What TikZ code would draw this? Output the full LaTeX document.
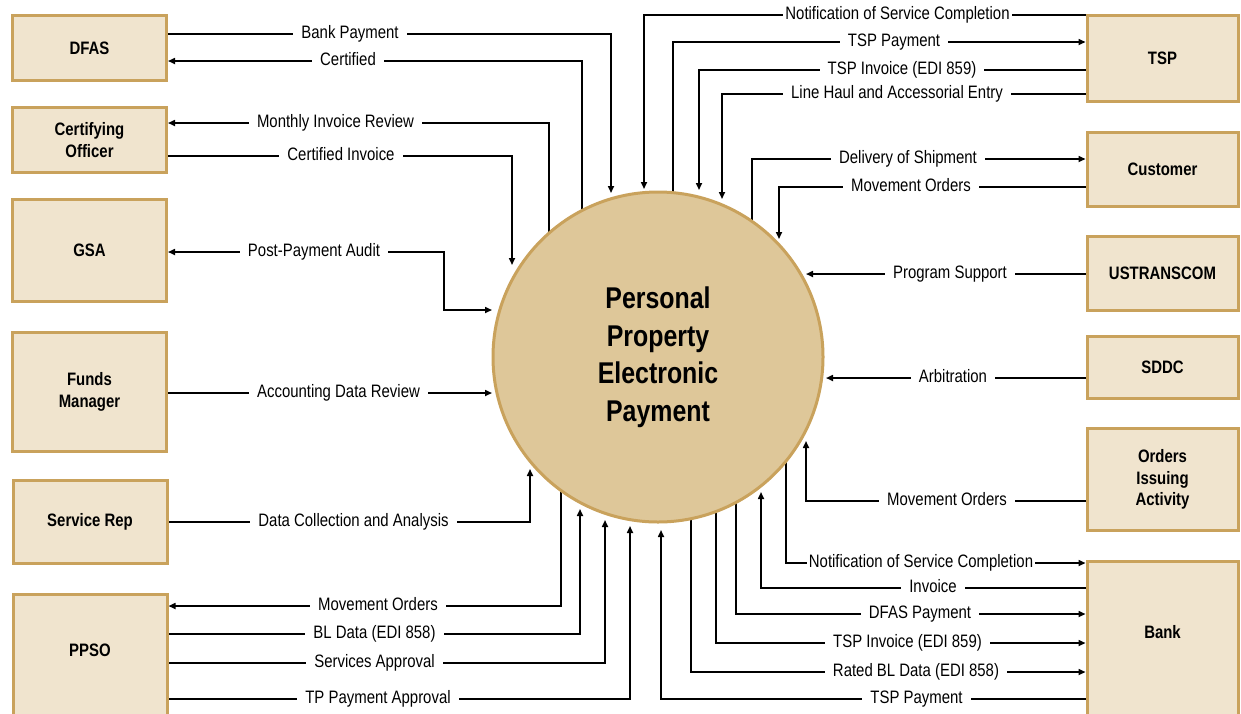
\documentclass[tikz,border=0pt]{standalone}
\usepackage{fontspec}
\setmainfont{Liberation Sans}[FakeStretch=0.83]
\usetikzlibrary{arrows.meta}
\pgfdeclarelayer{back}
\pgfdeclarelayer{bg}
\pgfsetlayers{back,bg,main}
\definecolor{boxfill}{RGB}{240,228,206}
\definecolor{boxline}{RGB}{201,162,92}
\definecolor{circfill}{RGB}{222,199,153}
\begin{document}
\begin{tikzpicture}[x=1pt,y=-1pt,
  box/.style={draw=boxline, fill=boxfill, line width=3pt, minimum width=154pt,
    align=center, inner sep=0pt, font=\bfseries\fontsize{18}{21.5}\selectfont},
  rbox/.style={box, minimum width=151pt},
  boxtxt/.style={align=center, inner sep=0pt, font=\bfseries\fontsize{18}{21.5}\selectfont},
  lab/.style={fill=white, inner xsep=8pt, inner ysep=1pt, text height=13pt, text depth=4pt,
    font=\fontsize{18}{21.5}\selectfont},
  labt/.style={lab, inner xsep=2pt},
  conn/.style={line width=1.6pt},
  arr/.style={conn, -{Triangle[length=7pt,width=6pt]}},
  biarr/.style={conn, {Triangle[length=7pt,width=6pt]}-{Triangle[length=7pt,width=6pt]}}]
\clip (0,0) rectangle (1241,713);
\begin{pgfonlayer}{back}
\fill[white] (0,0) rectangle (1241,713);
\end{pgfonlayer}

% left boxes
\node[box, minimum height=65] (DFAS) at (89.5,48) {DFAS};
\node[box, minimum height=65] (CO) at (89.5,140) {Certifying\\Officer};
\node[box, minimum height=102] (GSA) at (89.5,250.5) {GSA};
\node[box, minimum height=119] (FM) at (89.5,392) {Funds\\Manager};
\node[box, minimum height=83] (SR) at (90,522) {Service Rep};
\node[box, minimum height=160, anchor=north] (PPSO) at (90,592.5) {};
\node[boxtxt] (PPSOt) at (90,650) {PPSO};

% right boxes
\node[rbox, minimum height=86] (TSP) at (1162.5,58.5) {TSP};
\node[rbox, minimum height=74] (CU) at (1162.5,169.5) {Customer};
\node[rbox, minimum height=74] (UST) at (1162.5,273.5) {USTRANSCOM};
\node[rbox, minimum height=62] (SDDC) at (1162.5,367.5) {SDDC};
\node[rbox, minimum height=102] (OIA) at (1162.5,479.5) {Orders\\Issuing\\Activity};
\node[rbox, minimum height=170, anchor=north] (Bank) at (1162.5,559.5) {};
\node[boxtxt] (Bankt) at (1162.5,632) {Bank};

% central process
\node[circle, draw=boxline, fill=circfill, line width=3pt, minimum size=330pt,
  inner sep=0pt, align=center, font=\bfseries\fontsize{30}{37.5}\selectfont]
  (C) at (658,357) {Personal\\Property\\Electronic\\Payment};

% end points at the circle
\coordinate (bp) at (611,193);
\coordinate (ce) at (582,280);
\coordinate (mi) at (549,280);
\coordinate (ci) at (512,265);
\coordinate (pac) at (444,310);
\coordinate (pa) at (492,310);
\coordinate (ad) at (492,393);
\coordinate (dc) at (530,469);
\coordinate (mo) at (561,440);
\coordinate (bl) at (580,509);
\coordinate (sa) at (605,520);
\coordinate (tp) at (630,526);
\coordinate (ns) at (644,189);
\coordinate (tpay) at (673,260);
\coordinate (ti) at (699,190);
\coordinate (lh) at (722,199);
\coordinate (ds) at (752,260);
\coordinate (mc) at (779,239);
\coordinate (ps) at (806,274);
\coordinate (ar) at (826,378);
\coordinate (mv) at (806,441);
\coordinate (nb) at (786,440);
\coordinate (iv) at (761,492);
\coordinate (dp) at (736,440);
\coordinate (tib) at (716,440);
\coordinate (rb) at (691,440);
\coordinate (tpb) at (661,530);

\begin{pgfonlayer}{bg}
\draw[arr] (DFAS.east |- 0,34) -| (bp);
\draw[arr] (ce) |- (DFAS.east |- 0,61);
\draw[arr] (mi) |- (CO.east |- 0,123);
\draw[arr] (CO.east |- 0,156) -| (ci);
\draw[biarr] (GSA.east |- 0,252) -| (pac) -- (pa);
\draw[arr] (FM.east |- 0,393) -- (ad);
\draw[arr] (SR.east |- 0,522) -| (dc);
\draw[arr] (mo) |- (PPSO.east |- 0,606);
\draw[arr] (PPSO.east |- 0,634) -| (bl);
\draw[arr] (PPSO.east |- 0,663) -| (sa);
\draw[arr] (PPSO.east |- 0,699) -| (tp);

\draw[arr] (TSP.west |- 0,15) -| (ns);
\draw[arr] (tpay) |- (TSP.west |- 0,42);
\draw[arr] (TSP.west |- 0,70) -| (ti);
\draw[arr] (TSP.west |- 0,94) -| (lh);
\draw[arr] (ds) |- (CU.west |- 0,159);
\draw[arr] (CU.west |- 0,187) -| (mc);
\draw[arr] (UST.west |- 0,274) -- (ps);
\draw[arr] (SDDC.west |- 0,378) -- (ar);
\draw[arr] (OIA.west |- 0,501) -| (mv);
\draw[arr] (nb) |- (Bank.west |- 0,563);
\draw[arr] (Bank.west |- 0,588) -| (iv);
\draw[arr] (dp) |- (Bank.west |- 0,614);
\draw[arr] (tib) |- (Bank.west |- 0,643);
\draw[arr] (rb) |- (Bank.west |- 0,672);
\draw[arr] (Bank.west |- 0,699) -| (tpb);
\end{pgfonlayer}

% labels
\node[lab] (l1) at (350,34) {Bank Payment};
\node[lab] (l2) at (348,61) {Certified};
\node[lab] (l3) at (335.5,123) {Monthly Invoice Review};
\node[lab] (l4) at (341,156) {Certified Invoice};
\node[lab] (l5) at (314,252) {Post-Payment Audit};
\node[lab] (l6) at (338.5,393) {Accounting Data Review};
\node[lab] (l7) at (353.5,522) {Data Collection and Analysis};
\node[lab] (l8) at (378,606) {Movement Orders};
\node[lab] (l9) at (374.5,634) {BL Data (EDI 858)};
\node[lab] (l10) at (374.5,663) {Services Approval};
\node[lab] (l11) at (378,699) {TP Payment Approval};

\node[labt] (r1) at (897.5,15) {Notification of Service Completion};
\node[lab] (r2) at (894,42) {TSP Payment};
\node[lab] (r3) at (902,70) {TSP Invoice (EDI 859)};
\node[lab] (r4) at (897,94) {Line Haul and Accessorial Entry};
\node[lab] (r5) at (908,159) {Delivery of Shipment};
\node[lab] (r6) at (911,187) {Movement Orders};
\node[lab] (r7) at (950,274) {Program Support};
\node[lab] (r8) at (953,378) {Arbitration};
\node[lab] (r9) at (947,501) {Movement Orders};
\node[labt] (r10) at (921,563) {Notification of Service Completion};
\node[lab] (r11) at (933,588) {Invoice};
\node[lab] (r12) at (920,614) {DFAS Payment};
\node[lab] (r13) at (907.5,643) {TSP Invoice (EDI 859)};
\node[lab] (r14) at (916,672) {Rated BL Data (EDI 858)};
\node[lab] (r15) at (916.5,699) {TSP Payment};
\end{tikzpicture}
\end{document}
